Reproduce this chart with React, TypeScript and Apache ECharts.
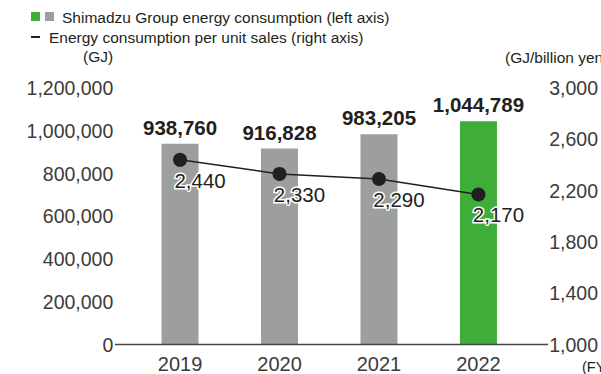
import React, { useEffect, useRef } from "react";
import * as echarts from "echarts";

const years = ["2019", "2020", "2021", "2022"];
const energyGJ = [938760, 916828, 983205, 1044789];
const perUnitSales = [2440, 2330, 2290, 2170];
const barColors = ["#9d9e9e", "#9d9e9e", "#9d9e9e", "#3fae38"];

const FONT = "'Liberation Sans', Arial, Helvetica, sans-serif";
const TEXT = "#231f20";
const AXIS_TEXT = "#3e3a39";

const fmt = (v: number) => v.toLocaleString("en-US");

export default function App() {
  const ref = useRef<HTMLDivElement>(null);

  useEffect(() => {
    if (!ref.current) return;
    const chart = echarts.init(ref.current, undefined, { renderer: "svg" });
    chart.setOption({
      animation: false,
      textStyle: { fontFamily: FONT },
      grid: { left: 130.3, right: 65.3, top: 88, bottom: 29.5, containLabel: false },
      xAxis: {
        type: "category",
        data: years,
        boundaryGap: true,
        axisLine: { show: false },
        axisTick: { show: false },
        axisLabel: { color: AXIS_TEXT, fontSize: 20, margin: 9, fontFamily: FONT },
      },
      yAxis: [
        {
          type: "value",
          min: 0,
          max: 1200000,
          interval: 200000,
          axisLine: { show: false },
          axisTick: { show: false },
          splitLine: { show: false },
          axisLabel: {
            color: AXIS_TEXT,
            fontSize: 19.5,
            margin: 17,
            fontFamily: FONT,
            formatter: (v: number) => fmt(v),
          },
        },
        {
          type: "value",
          min: 1000,
          max: 3000,
          interval: 400,
          position: "right",
          axisLine: { show: false },
          axisTick: { show: false },
          splitLine: { show: false },
          axisLabel: {
            color: AXIS_TEXT,
            fontSize: 19.5,
            margin: 21,
            fontFamily: FONT,
            formatter: (v: number) => fmt(v),
          },
        },
      ],
      series: [
        {
          type: "bar",
          yAxisIndex: 0,
          barWidth: 37,
          data: energyGJ.map((v, i) => ({ value: v, itemStyle: { color: barColors[i] } })),
          label: {
            show: true,
            position: "top",
            distance: 6,
            color: TEXT,
            fontSize: 20.5,
            fontWeight: "bold",
            fontFamily: FONT,
            formatter: (p: any) => fmt(p.value),
          },
        },
        {
          type: "line",
          yAxisIndex: 1,
          data: perUnitSales,
          symbol: "circle",
          symbolSize: 14,
          lineStyle: { color: TEXT, width: 1.5 },
          itemStyle: { color: TEXT },
          label: {
            show: true,
            position: "bottom",
            distance: 3,
            offset: [20, 0],
            color: TEXT,
            fontSize: 20.5,
            fontFamily: FONT,
            textBorderColor: "#ffffff",
            textBorderWidth: 3,
            formatter: (p: any) => fmt(p.value),
          },
          z: 5,
        },
      ],
      graphic: [
        // baseline shared by both axes
        {
          type: "line",
          z: 10,
          shape: { x1: 115, y1: 344.5, x2: 548, y2: 344.5 },
          style: { stroke: "#4a4544", lineWidth: 1.5 },
        },
        // legend
        { type: "rect", shape: { x: 31, y: 12, width: 9, height: 9 }, style: { fill: "#3fae38" } },
        { type: "rect", shape: { x: 45, y: 12, width: 9, height: 9 }, style: { fill: "#9d9e9e" } },
        {
          type: "text",
          x: 62,
          y: 17,
          style: {
            text: "Shimadzu Group energy consumption (left axis)",
            fill: TEXT,
            font: `15.5px ${FONT}`,
            verticalAlign: "middle",
          },
        },
        {
          type: "line",
          shape: { x1: 31, y1: 37, x2: 40, y2: 37 },
          style: { stroke: TEXT, lineWidth: 2 },
        },
        {
          type: "text",
          x: 49,
          y: 37,
          style: {
            text: "Energy consumption per unit sales (right axis)",
            fill: TEXT,
            font: `15.5px ${FONT}`,
            verticalAlign: "middle",
          },
        },
        {
          type: "text",
          x: 83,
          y: 56,
          style: { text: "(GJ)", fill: TEXT, font: `15.5px ${FONT}`, verticalAlign: "middle" },
        },
        {
          type: "text",
          x: 505,
          y: 57,
          style: { text: "(GJ/billion yen)", fill: TEXT, font: `15.5px ${FONT}`, verticalAlign: "middle" },
        },
        {
          type: "text",
          x: 582,
          y: 367,
          style: { text: "(FY)", fill: TEXT, font: `14.5px ${FONT}`, verticalAlign: "middle" },
        },
      ],
    });
    return () => chart.dispose();
  }, []);

  return <div ref={ref} style={{ width: 601, height: 374, position: "absolute", left: 0, top: 0 }} />;
}
